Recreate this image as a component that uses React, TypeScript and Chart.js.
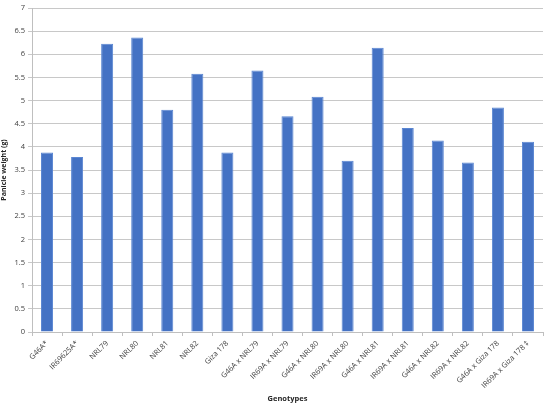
import React, { useEffect, useRef } from "react";
import { Chart, registerables } from "chart.js";

Chart.register(...registerables);

const categories = [
  "G46A*",
  "IR69625A*",
  "NRL79",
  "NRL80",
  "NRL81",
  "NRL82",
  "Giza 178",
  "G46A x NRL79",
  "IR69A x NRL79",
  "G46A x NRL80",
  "IR69A x NRL80",
  "G46A x NRL81",
  "IR69A x NRL81",
  "G46A x NRL82",
  "IR69A x NRL82",
  "G46A x Giza 178",
  "IR69A x Giza 178 \u2021",
];

const panicleWeight = [
  3.88, 3.78, 6.23, 6.36, 4.8, 5.58, 3.88, 5.65, 4.66, 5.08, 3.7, 6.14, 4.41, 4.14, 3.66, 4.85, 4.11,
];

const yTicks = [0, 0.5, 1, 1.5, 2, 2.5, 3, 3.5, 4, 4.5, 5, 5.5, 6, 6.5, 7];

export default function App() {
  const ref = useRef<HTMLCanvasElement | null>(null);

  useEffect(() => {
    if (!ref.current) return;
    const font = "'Open Sans', 'Liberation Sans', sans-serif";
    const chart = new Chart(ref.current, {
      type: "bar",
      data: {
        labels: categories,
        datasets: [
          {
            label: "Panicle weight (g)",
            data: panicleWeight,
            backgroundColor: "#4472C4",
            borderColor: "#5a86d2",
            borderWidth: 1,
            barPercentage: 1,
            categoryPercentage: 0.4,
          },
        ],
      },
      options: {
        animation: false,
        responsive: false,
        maintainAspectRatio: false,
        layout: { padding: { top: 8, right: 7, left: 0, bottom: 0 } },
        plugins: {
          legend: { display: false },
          tooltip: { enabled: false },
        },
        scales: {
          x: {
            grid: {
              display: true,
              drawOnChartArea: false,
              drawTicks: true,
              tickLength: 4,
              color: "#bfbfbf",
              offset: true,
            },
            border: { display: true, color: "#bfbfbf" },
            ticks: {
              maxRotation: 45,
              minRotation: 45,
              autoSkip: false,
              padding: 3,
              color: "#404040",
              font: { family: font, size: 7.5 },
            },
            title: {
              display: true,
              text: "Genotypes",
              color: "#262626",
              font: { family: font, size: 7.5, weight: "bold" },
              padding: { top: 0, bottom: 2 },
            },
            afterFit: (scale: any) => {
              scale.height = 73;
            },
          },
          y: {
            min: 0,
            max: 7,
            afterBuildTicks: (scale: any) => {
              scale.ticks = yTicks.map((v) => ({ value: v }));
            },
            grid: {
              color: "#c8c8c8",
              tickLength: 4,
            },
            border: { display: true, color: "#bfbfbf" },
            ticks: {
              padding: 3,
              color: "#404040",
              font: { family: font, size: 7.5 },
              callback: (v: any) => String(v),
            },
            title: {
              display: true,
              text: "Panicle weight (g)",
              color: "#262626",
              font: { family: font, size: 7, weight: "bold" },
              padding: { top: 0, bottom: 0 },
            },
            afterFit: (scale: any) => {
              scale.width = 32;
            },
          },
        },
      },
    });
    return () => chart.destroy();
  }, []);

  return (
    <div style={{ position: "fixed", left: 0, top: 0, width: 550, height: 405, background: "#fff" }}>
      <canvas ref={ref} width={550} height={405} style={{ width: 550, height: 405 }} />
    </div>
  );
}
